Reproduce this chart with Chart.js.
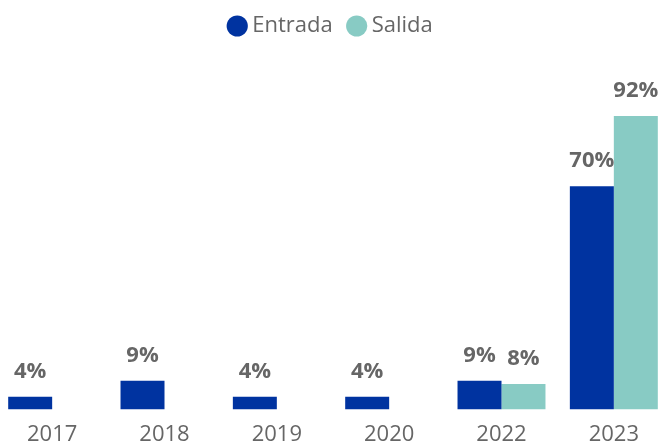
<!DOCTYPE html>
<html>
<head>
<meta charset="utf-8">
<script src="https://cdn.jsdelivr.net/npm/chart.js@4"></script>
<style>
  html, body { margin: 0; padding: 0; background: #fff; overflow: hidden; }
  #wrap { position: absolute; left: -4px; top: 0; width: 674px; height: 442px; }
</style>
</head>
<body>
<div id="wrap"><canvas id="myChart"></canvas></div>
<script>
// data
const years = ['2017', '2018', '2019', '2020', '2022', '2023'];
const entrada = [4, 9, 4, 4, 9, 70];
const salida = [null, null, null, null, 8, 92];

// draws the % labels above the bars
const barLabels = {
    id: 'barLabels',
    afterDatasetsDraw(chart) {
        const ctx = chart.ctx;
        ctx.save();
        ctx.font = 'bold 22px "Open Sans"';
        ctx.fillStyle = '#666666';
        ctx.textAlign = 'center';
        ctx.textBaseline = 'alphabetic';
        chart.data.datasets.forEach(function (ds, i) {
            const meta = chart.getDatasetMeta(i);
            meta.data.forEach(function (bar, j) {
                const v = ds.data[j];
                if (v === null || v === undefined) return;
                ctx.fillText(v + '%', bar.x, bar.y - 19);
            });
        });
        ctx.restore();
    }
};

const data = {
    labels: years,
    datasets: [{
        label: 'Entrada',
        data: entrada,
        backgroundColor: '#0033A0',
        barPercentage: 1,
        categoryPercentage: 0.783
    }, {
        label: 'Salida',
        data: salida,
        backgroundColor: '#88CBC4',
        barPercentage: 1,
        categoryPercentage: 0.783
    }]
};

const config = {
    type: 'bar',
    data: data,
    options: {
        responsive: true,
        maintainAspectRatio: false,
        animation: false,
        layout: { padding: { top: -5, bottom: -17, left: 0, right: 0 } },
        plugins: {
            tooltip: { enabled: false },
            legend: {
                position: 'top',
                labels: {
                    usePointStyle: true,
                    pointStyle: 'circle',
                    boxWidth: 8,
                    boxHeight: 15,
                    padding: 20,
                    color: '#666666',
                    font: { family: '"Open Sans"', size: 22 }
                }
            }
        },
        scales: {
            x: {
                grid: { display: false, drawTicks: false },
                border: { display: false },
                ticks: {
                    padding: 11.5,
                    color: '#666666',
                    font: { family: '"Open Sans"', size: 22 }
                }
            },
            y: {
                display: false,
                min: 0,
                max: 113.6
            }
        }
    },
    plugins: [barLabels]
};

const myChart = new Chart(document.getElementById('myChart'), config);
</script>
</body>
</html>
